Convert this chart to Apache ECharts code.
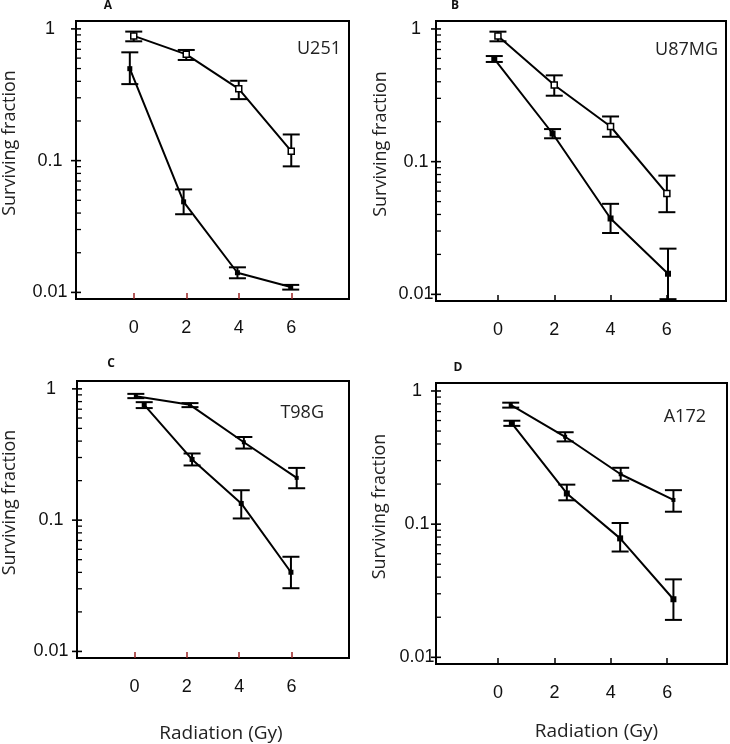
<!DOCTYPE html>
<html><head><meta charset="utf-8">
<script src="https://cdn.jsdelivr.net/npm/echarts@6/dist/echarts.min.js"></script>
<style>html,body{margin:0;padding:0;background:#fff}#c{width:730px;height:744px}</style>
</head><body><div id="c"></div>
<script>
// ---- tick values / labels ----
const X_TICKS = [0, 2, 4, 6];
const Y_TICKS = [0.01, 0.1, 1];
const Y_TICK_LABELS = ['0.01', '0.1', '1'];
const Y_MINOR = [0.02, 0.03, 0.04, 0.05, 0.06, 0.07, 0.08, 0.09, 0.2, 0.3, 0.4, 0.5, 0.6, 0.7, 0.8, 0.9];
const PANEL_LETTERS = ['A', 'B', 'C', 'D'];
const CELL_LINES = ['U251', 'U87MG', 'T98G', 'A172'];
const X_NAME = 'Radiation (Gy)';
const Y_NAME = 'Surviving fraction';

// ---- Panel A: U251 ----
const A_up_x = [0, 2, 4, 6];
const A_up_y = [0.885, 0.641, 0.351, 0.118];
const A_up_lo = [0.805, 0.581, 0.293, 0.0905];
const A_up_hi = [0.954, 0.692, 0.404, 0.158];
const A_lo_x = [-0.15, 1.9, 3.95, 5.98];
const A_lo_y = [0.499, 0.0487, 0.0141, 0.0110];
const A_lo_lo = [0.381, 0.0392, 0.0128, 0.0105];
const A_lo_hi = [0.664, 0.0605, 0.0155, 0.0114];

// ---- Panel B: U87MG ----
const B_up_x = [0, 2, 4, 6];
const B_up_y = [0.885, 0.378, 0.184, 0.0575];
const B_up_lo = [0.807, 0.314, 0.154, 0.0416];
const B_up_hi = [0.954, 0.447, 0.219, 0.0785];
const B_lo_x = [-0.13, 1.94, 4.0, 6.04];
const B_lo_y = [0.594, 0.163, 0.0373, 0.0143];
const B_lo_lo = [0.564, 0.150, 0.029, 0.0092];
const B_lo_hi = [0.625, 0.176, 0.0481, 0.0221];

// ---- Panel C: T98G ----
const C_up_x = [0.05, 2.12, 4.18, 6.2];
const C_up_y = [0.88, 0.756, 0.392, 0.21];
const C_up_lo = [0.85, 0.726, 0.351, 0.175];
const C_up_hi = [0.916, 0.779, 0.43, 0.25];
const C_lo_x = [0.37, 2.2, 4.08, 5.98];
const C_lo_y = [0.756, 0.29, 0.134, 0.0401];
const C_lo_lo = [0.714, 0.261, 0.103, 0.0303];
const C_lo_hi = [0.792, 0.322, 0.169, 0.0526];

// ---- Panel D: A172 ----
const D_up_x = [0.45, 2.38, 4.35, 6.22];
const D_up_y = [0.785, 0.453, 0.237, 0.152];
const D_up_lo = [0.75, 0.418, 0.212, 0.124];
const D_up_hi = [0.817, 0.49, 0.265, 0.18];
const D_lo_x = [0.49, 2.44, 4.33, 6.22];
const D_lo_y = [0.572, 0.17, 0.0782, 0.0273];
const D_lo_lo = [0.547, 0.151, 0.0623, 0.0191];
const D_lo_hi = [0.598, 0.198, 0.102, 0.0385];

const panelsData = [
  {up: [A_up_x, A_up_y, A_up_lo, A_up_hi], lo: [A_lo_x, A_lo_y, A_lo_lo, A_lo_hi]},
  {up: [B_up_x, B_up_y, B_up_lo, B_up_hi], lo: [B_lo_x, B_lo_y, B_lo_lo, B_lo_hi]},
  {up: [C_up_x, C_up_y, C_up_lo, C_up_hi], lo: [C_lo_x, C_lo_y, C_lo_lo, C_lo_hi]},
  {up: [D_up_x, D_up_y, D_up_lo, D_up_hi], lo: [D_lo_x, D_lo_y, D_lo_lo, D_lo_hi]}
];

// ---- layout (styling only) ----
const XMIN = -2.2;
const layouts = [
  {left: 75, top: 21, width: 274, height: 278, xmax: 8.2, tick: '#9b2424', lblMargin: 26, yGap: 57, xName: false,
   letter: [108, 6], cell: [341, 49], upSym: {size: 6, open: true}, loSym: {size: 5}},
  {left: 436, top: 21, width: 290, height: 280, xmax: 8.1, tick: '#000', lblMargin: 20, yGap: 46, xName: false,
   letter: [455, 6], cell: [718, 50], upSym: {size: 6, open: true}, loSym: {size: 6}},
  {left: 75, top: 381, width: 274, height: 278, xmax: 8.2, tick: '#9b2424', lblMargin: 26, yGap: 58, xName: true, xGap: 66, xPad: 16,
   letter: [111, 364], cell: [324, 413], upSym: {size: 4}, loSym: {size: 5}},
  {left: 436, top: 383, width: 291, height: 281, xmax: 8.12, tick: '#000', lblMargin: 19, yGap: 47, xName: true, xGap: 58, xPad: 30,
   letter: [458, 368], cell: [706, 417], upSym: {size: 4}, loSym: {size: 6}}
];

const YMIN = 0.00891, YMAX = 1.148;
const NUM_FONT = 'Liberation Sans';
const TXT_FONT = 'Open Sans';

function errRender(params, api) {
  const x = api.value(0), lo = api.value(1), hi = api.value(2);
  const a = api.coord([x, lo]), b = api.coord([x, hi]);
  const w = 8.5;
  const style = {stroke: '#000', lineWidth: 2, fill: null};
  return {type: 'group', children: [
    {type: 'line', shape: {x1: a[0], y1: a[1], x2: b[0], y2: b[1]}, style: style},
    {type: 'line', shape: {x1: a[0] - w, y1: a[1], x2: a[0] + w, y2: a[1]}, style: style},
    {type: 'line', shape: {x1: b[0] - w, y1: b[1], x2: b[0] + w, y2: b[1]}, style: style}
  ]};
}

// y-axis tick marks (major: crossing the frame, minor: inside), placed through the axis scale
function yTickRender(params, api) {
  const p = api.coord([api.value(0), api.value(1)]);
  const major = api.value(2) === 1;
  const x0 = p[0], y0 = p[1];
  return {type: 'group', children: [
    {type: 'line', shape: {x1: major ? x0 - 5 : x0, y1: y0, x2: x0 + 5, y2: y0},
     style: {stroke: '#000', lineWidth: major ? 1.6 : 1.3, fill: null}}
  ]};
}

const grid = [], xAxis = [], yAxis = [], series = [], graphic = [];
layouts.forEach(function (L, i) {
  grid.push({left: L.left, top: L.top, width: L.width, height: L.height, show: true,
    borderColor: '#000', borderWidth: 2, backgroundColor: 'transparent'});
  xAxis.push({
    type: 'value', gridIndex: i, min: XMIN, max: L.xmax, position: 'bottom',
    axisLine: {show: false, onZero: false}, splitLine: {show: false},
    axisTick: {show: true, inside: true, length: 6, customValues: X_TICKS, lineStyle: {color: L.tick, width: 1.5}},
    axisLabel: {customValues: X_TICKS, margin: 20, color: '#111', fontFamily: NUM_FONT, fontSize: 18},
    name: L.xName ? X_NAME : '', nameLocation: 'middle', nameGap: L.xGap || 0,
    nameTextStyle: {fontFamily: TXT_FONT, fontSize: 19, color: '#222', padding: [0, 0, 0, L.xPad || 0]}
  });
  yAxis.push({
    type: 'log', logBase: 10, gridIndex: i, min: YMIN, max: YMAX, position: 'left',
    axisLine: {show: false, onZero: false}, splitLine: {show: false}, minorTick: {show: false},
    axisTick: {show: false},
    axisLabel: {customValues: Y_TICKS, margin: L.lblMargin, align: 'center', color: '#111',
      fontFamily: NUM_FONT, fontSize: 18,
      formatter: function (v) {
        for (let k = 0; k < Y_TICKS.length; k++) { if (Math.abs(Math.log10(v) - Math.log10(Y_TICKS[k])) < 1e-6) return Y_TICK_LABELS[k]; }
        return '';
      }},
    name: Y_NAME, nameLocation: 'middle', nameGap: L.yGap, nameRotate: 90,
    nameTextStyle: {fontFamily: TXT_FONT, fontSize: 18, color: '#222', padding: [0, 0, 0, 34]}
  });
  series.push({
    type: 'custom', xAxisIndex: i, yAxisIndex: i, renderItem: yTickRender, silent: true, z: 5, clip: false,
    encode: {x: 0, y: 1},
    data: Y_TICKS.map(function (v) { return [XMIN, v, 1]; }).concat(Y_MINOR.map(function (v) { return [XMIN, v, 0]; }))
  });
  const D = panelsData[i];
  ['up', 'lo'].forEach(function (key) {
    const arr = D[key];
    const sym = key === 'up' ? L.upSym : L.loSym;
    series.push({
      type: 'custom', xAxisIndex: i, yAxisIndex: i, renderItem: errRender,
      encode: {x: 0, y: [1, 2]}, z: 2, silent: true,
      data: arr[0].map(function (x, k) { return [x, arr[2][k], arr[3][k]]; })
    });
    series.push({
      type: 'line', xAxisIndex: i, yAxisIndex: i, z: 3, silent: true,
      data: arr[0].map(function (x, k) { return [x, arr[1][k]]; }),
      lineStyle: {color: '#000', width: 2},
      symbol: 'rect', symbolSize: sym.size, showSymbol: true,
      itemStyle: sym.open ? {color: '#fff', borderColor: '#000', borderWidth: 1.5} : {color: '#000', borderWidth: 0}
    });
  });
  graphic.push({type: 'text', x: L.letter[0], y: L.letter[1],
    style: {text: PANEL_LETTERS[i], font: 'bold 12px "Open Sans"', fill: '#111', textAlign: 'center', textVerticalAlign: 'middle'}});
  graphic.push({type: 'text', x: L.cell[0], y: L.cell[1],
    style: {text: CELL_LINES[i], font: '18px "Open Sans"', fill: '#222', textAlign: 'right', textVerticalAlign: 'middle'}});
});

const chart = echarts.init(document.getElementById('c'), null, {renderer: 'canvas'});
chart.setOption({animation: false, backgroundColor: '#fff', grid: grid, xAxis: xAxis, yAxis: yAxis, series: series, graphic: graphic});
</script></body></html>
